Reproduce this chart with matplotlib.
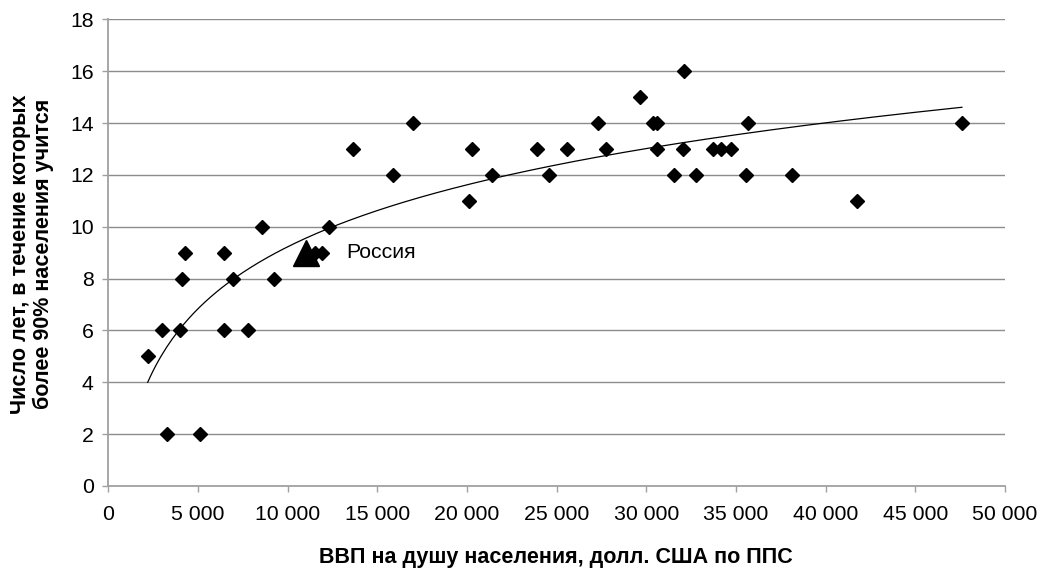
import numpy as np
import matplotlib
matplotlib.use("Agg")
import matplotlib.pyplot as plt
from matplotlib.ticker import FuncFormatter

plt.rcParams["font.family"] = ["Liberation Sans", "DejaVu Sans"]

# ВВП на душу населения (долл. США по ППС) и число лет обучения
gdp = [2200, 3000, 3300, 4000, 4100, 4300, 5100, 6450, 6450, 6950, 7800, 8600,
       9250, 11500, 11900, 12300, 13650, 15900, 17000, 20100, 20300, 21400,
       23900, 24600, 25600, 27300, 27750, 29650, 30350, 30600, 30600, 32100,
       32050, 31550, 32800, 33700, 34150, 34700, 35650, 35550, 38150, 41750,
       47600]
years = [5, 6, 2, 6, 8, 9, 2, 9, 6, 8, 6, 10,
         8, 9, 9, 10, 13, 12, 14, 11, 13, 12,
         13, 12, 13, 14, 13, 15, 14, 14, 13, 16,
         13, 12, 12, 13, 13, 13, 14, 12, 12, 11,
         14]
russia_gdp = 11000
russia_years = 9
russia_label = "Россия"

x_ticks = list(range(0, 50001, 5000))
y_ticks = list(range(0, 19, 2))

fig = plt.figure(figsize=(10.44, 5.75), dpi=100)
ax = fig.add_axes([0.1037, 0.1548, 0.8589, 0.8116])

grid_c = "#8c8c8c"
for yv in y_ticks[1:]:
    ax.axhline(yv, color=grid_c, lw=1, zorder=1)

ax.plot(gdp, years, linestyle="none", marker="D", ms=6.8, color="black", zorder=3)

# logarithmic trend line (Excel style)
xa = np.array(gdp, dtype=float)
a, b = np.polyfit(np.log(xa), np.array(years, dtype=float), 1)
xs = np.linspace(xa.min(), xa.max(), 300)
ax.plot(xs, a * np.log(xs) + b, color="black", lw=0.9, zorder=4)

ax.plot([russia_gdp], [russia_years], linestyle="none", marker="^", ms=19,
        color="black", zorder=5)
ax.annotate(russia_label, xy=(russia_gdp, russia_years), xytext=(29, 0),
            textcoords="offset points", va="center", ha="left", fontsize=15.3)

ax.set_xlim(0, 50000)
ax.set_ylim(0, 18)
ax.set_xticks(x_ticks)
ax.set_yticks(y_ticks)
ax.xaxis.set_major_formatter(FuncFormatter(lambda v, p: f"{int(v):,}".replace(",", " ")))

for s in ["top", "right"]:
    ax.spines[s].set_visible(False)
ax.spines["left"].set_color("#a0a0a0")
ax.spines["bottom"].set_color("#a0a0a0")
ax.spines["left"].set_linewidth(1.3)
ax.spines["bottom"].set_linewidth(1.3)
ax.tick_params(axis="both", colors="#a0a0a0", labelcolor="black", labelsize=15.3,
               length=4.5, width=1)
ax.tick_params(axis="x", pad=9)
ax.tick_params(axis="y", pad=6)

fig.text(556 / 1044, 1 - 557 / 575, "ВВП на душу населения, долл. США по ППС",
         ha="center", va="center", fontsize=15.5, fontweight="bold")
fig.text(32 / 1044, 1 - 254 / 575,
         "Число лет, в течение которых\nболее 90% населения учится",
         ha="center", va="center", rotation=90, fontsize=15.5, fontweight="bold",
         multialignment="center", linespacing=1.1)

fig.savefig("out.png", dpi=100)
